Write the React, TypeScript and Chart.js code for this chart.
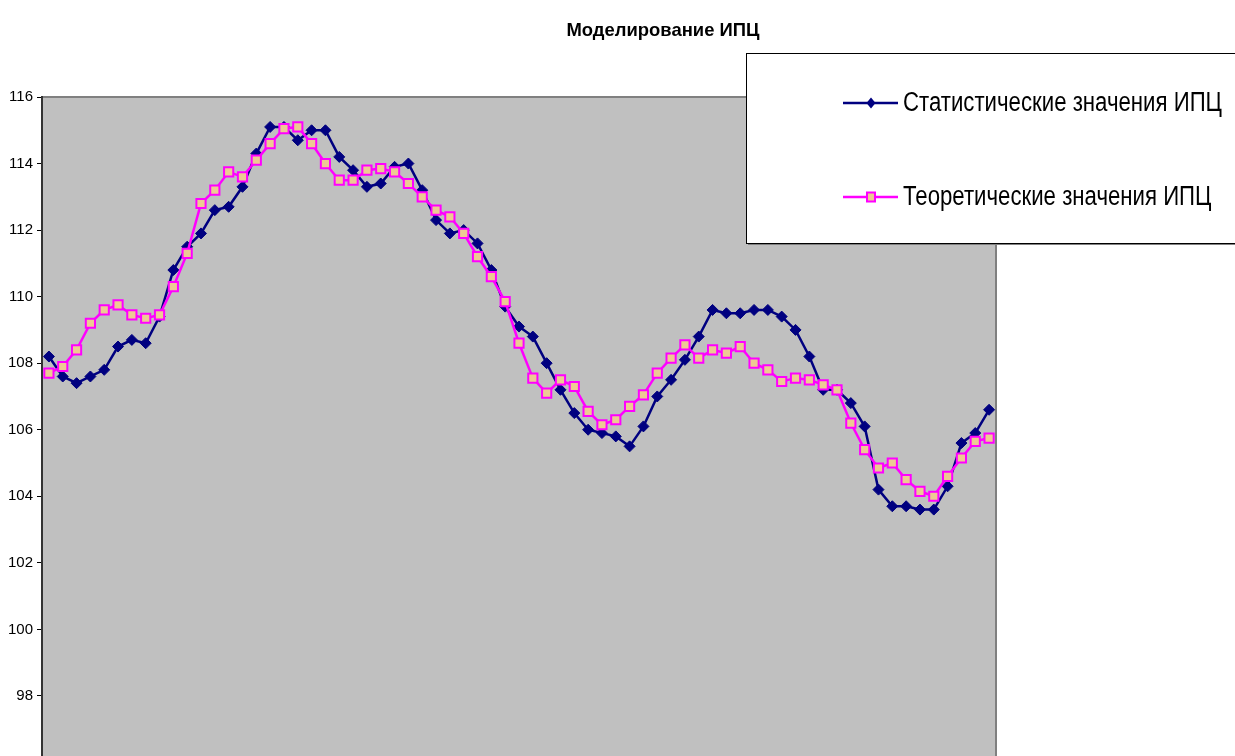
import React, { useEffect, useRef } from "react";
import { Chart, registerables } from "chart.js";

Chart.register(...registerables);

const TITLE = "Моделирование ИПЦ";
const STAT_NAME = "Статистические значения ИПЦ";
const THEO_NAME = "Теоретические значения ИПЦ";

const periods: string[] = Array.from({ length: 69 }, (_, i) => String(i + 1));

const statValues = [
  108.2, 107.6, 107.4, 107.6, 107.8, 108.5, 108.7, 108.6, 109.4, 110.8,
  111.5, 111.9, 112.6, 112.7, 113.3, 114.3, 115.1, 115.1, 114.7, 115.0,
  115.0, 114.2, 113.8, 113.3, 113.4, 113.9, 114.0, 113.2, 112.3, 111.9,
  112.0, 111.6, 110.8, 109.7, 109.1, 108.8, 108.0, 107.2, 106.5, 106.0,
  105.9, 105.8, 105.5, 106.1, 107.0, 107.5, 108.1, 108.8, 109.6, 109.5,
  109.5, 109.6, 109.6, 109.4, 109.0, 108.2, 107.2, 107.2, 106.8, 106.1,
  104.2, 103.7, 103.7, 103.6, 103.6, 104.3, 105.6, 105.9, 106.6,
];

const theoValues = [
  107.7, 107.9, 108.4, 109.2, 109.6, 109.75, 109.45, 109.35, 109.45, 110.3,
  111.3, 112.8, 113.2, 113.75, 113.6, 114.1, 114.6, 115.05, 115.1, 114.6,
  114.0, 113.5, 113.5, 113.8, 113.85, 113.75, 113.4, 113.0, 112.6, 112.4,
  111.9, 111.2, 110.6, 109.85, 108.6, 107.55, 107.1, 107.5, 107.3, 106.55,
  106.15, 106.3, 106.7, 107.05, 107.7, 108.15, 108.55, 108.15, 108.4, 108.3,
  108.5, 108.0, 107.8, 107.45, 107.55, 107.5, 107.35, 107.2, 106.2, 105.4,
  104.85, 105.0, 104.5, 104.15, 104.0, 104.6, 105.15, 105.65, 105.75,
];

const Y_MIN = 94;
const Y_MAX = 116;
const Y_STEP = 2;

const FONT = '"Liberation Sans Narrow", "Arial Narrow", "Liberation Sans", Arial, sans-serif';
const STAT_COLOR = "#000080";
const THEO_COLOR = "#FF00FF";
const THEO_FILL = "#EDCA93";

const CANVAS_W = 1326;
const CANVAS_H = 879;

const plotBgPlugin = {
  id: "plotBg",
  beforeDraw(chart: any) {
    const { ctx, chartArea: a } = chart;
    ctx.save();
    ctx.fillStyle = "#FFFFFF";
    ctx.fillRect(0, 0, chart.width, chart.height);
    ctx.fillStyle = "#C0C0C0";
    ctx.fillRect(a.left, a.top, a.right - a.left, a.bottom - a.top);
    ctx.strokeStyle = "#808080";
    ctx.lineWidth = 2;
    ctx.beginPath();
    ctx.moveTo(a.left, a.top);
    ctx.lineTo(a.right, a.top);
    ctx.lineTo(a.right, a.bottom);
    ctx.lineTo(a.left, a.bottom);
    ctx.stroke();
    ctx.restore();
  },
};

function drawDiamond(ctx: CanvasRenderingContext2D, x: number, y: number, rx: number, ry: number) {
  ctx.beginPath();
  ctx.moveTo(x - rx, y);
  ctx.lineTo(x, y - ry);
  ctx.lineTo(x + rx, y);
  ctx.lineTo(x, y + ry);
  ctx.closePath();
  ctx.fill();
}

function fillNarrowText(
  ctx: CanvasRenderingContext2D,
  text: string,
  x: number,
  y: number,
  sx: number,
  align: CanvasTextAlign
) {
  ctx.save();
  ctx.translate(x, y);
  ctx.scale(sx, 1);
  ctx.textAlign = align;
  ctx.fillText(text, 0, 0);
  ctx.restore();
}

const overlayPlugin = {
  id: "overlay",
  afterDraw(chart: any) {
    const { ctx } = chart;
    ctx.save();
    // title
    ctx.fillStyle = "#000";
    ctx.font = `bold 19px ${FONT}`;
    ctx.textBaseline = "middle";
    const tw = ctx.measureText(TITLE).width;
    fillNarrowText(ctx, TITLE, 663, 31, 193 / tw, "center");

    // legend box
    const bx = 746, by = 53, bw = 560, bh = 190;
    ctx.fillStyle = "#808080";
    ctx.fillRect(bx + 2, by + bh, bw, 2);
    ctx.fillStyle = "#FFFFFF";
    ctx.fillRect(bx, by, bw, bh);
    ctx.strokeStyle = "#000";
    ctx.lineWidth = 1;
    ctx.strokeRect(bx + 0.5, by + 0.5, bw, bh);

    ctx.font = `27px ${FONT}`;
    const sx = 319 / ctx.measureText(STAT_NAME).width;

    const items = [
      { name: STAT_NAME, y: 103, kind: "stat" },
      { name: THEO_NAME, y: 197, kind: "theo" },
    ];
    for (const it of items) {
      const color = it.kind === "stat" ? STAT_COLOR : THEO_COLOR;
      ctx.strokeStyle = color;
      ctx.lineWidth = 2.5;
      ctx.beginPath();
      ctx.moveTo(843, it.y);
      ctx.lineTo(898, it.y);
      ctx.stroke();
      if (it.kind === "stat") {
        ctx.fillStyle = STAT_COLOR;
        drawDiamond(ctx, 871, it.y, 4.5, 5.5);
      } else {
        ctx.fillStyle = THEO_FILL;
        ctx.fillRect(867, it.y - 4.5, 8, 9);
        ctx.strokeStyle = THEO_COLOR;
        ctx.lineWidth = 2;
        ctx.strokeRect(867, it.y - 4.5, 8, 9);
      }
      ctx.fillStyle = "#000";
      ctx.font = `27px ${FONT}`;
      ctx.textBaseline = "middle";
      fillNarrowText(ctx, it.name, 903, it.y + 1, sx, "left");
    }
    ctx.restore();
  },
};

export default function App() {
  const canvasRef = useRef<HTMLCanvasElement | null>(null);

  useEffect(() => {
    const canvas = canvasRef.current;
    if (!canvas) return;
    const chart = new Chart(canvas, {
      type: "line",
      data: {
        labels: periods,
        datasets: [
          {
            label: STAT_NAME,
            data: statValues,
            borderColor: STAT_COLOR,
            backgroundColor: STAT_COLOR,
            borderWidth: 2.5,
            pointStyle: "rectRot",
            pointRadius: 5.5,
            pointBorderWidth: 1,
            pointBackgroundColor: STAT_COLOR,
            pointBorderColor: STAT_COLOR,
            tension: 0,
            order: 2,
          },
          {
            label: THEO_NAME,
            data: theoValues,
            borderColor: THEO_COLOR,
            backgroundColor: THEO_FILL,
            borderWidth: 2.5,
            pointStyle: "rect",
            pointRadius: 6.5,
            pointBorderWidth: 2,
            pointBackgroundColor: THEO_FILL,
            pointBorderColor: THEO_COLOR,
            tension: 0,
            order: 1,
          },
        ],
      },
      options: {
        animation: false,
        responsive: false,
        devicePixelRatio: 1,
        layout: { padding: { top: 97, left: 0, right: CANVAS_W - 996, bottom: 0 } },
        plugins: {
          legend: { display: false },
          title: { display: false },
          tooltip: { enabled: false },
        },
        scales: {
          x: {
            type: "category",
            offset: true,
            grid: { display: false },
            border: { display: false },
            ticks: { color: "#000", font: { family: FONT, size: 15 } },
            afterFit: (scale: any) => {
              scale.height = 50;
            },
          },
          y: {
            min: Y_MIN,
            max: Y_MAX,
            ticks: {
              stepSize: Y_STEP,
              color: "#000",
              padding: 4,
              font: { family: FONT, size: 15 },
            },
            grid: {
              display: true,
              drawOnChartArea: false,
              drawTicks: true,
              tickLength: 5,
              color: "#000",
              lineWidth: 1,
            },
            border: { display: true, color: "#333333", width: 2 },
            afterFit: (scale: any) => {
              scale.width = 42;
            },
          },
        },
      },
      plugins: [plotBgPlugin, overlayPlugin],
    });
    return () => chart.destroy();
  }, []);

  return (
    <div
      style={{
        position: "fixed",
        left: 0,
        top: 0,
        width: 1235,
        height: 756,
        overflow: "hidden",
        background: "#fff",
      }}
    >
      <canvas
        ref={canvasRef}
        width={CANVAS_W}
        height={CANVAS_H}
        style={{ width: CANVAS_W, height: CANVAS_H, display: "block" }}
      />
    </div>
  );
}
